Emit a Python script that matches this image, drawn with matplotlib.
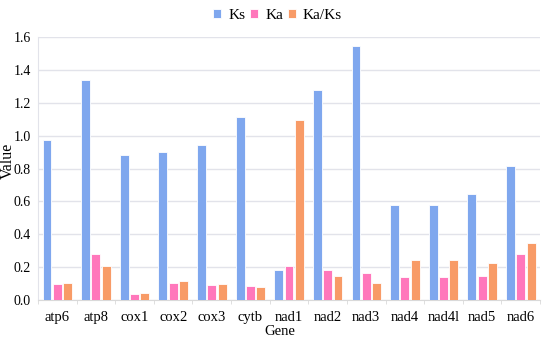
import numpy as np
import matplotlib.pyplot as plt

genes = ['atp6', 'atp8', 'cox1', 'cox2', 'cox3', 'cytb', 'nad1',
         'nad2', 'nad3', 'nad4', 'nad4l', 'nad5', 'nad6']
ks = [0.975, 1.336, 0.882, 0.902, 0.945, 1.115, 0.184,
      1.276, 1.547, 0.58, 0.578, 0.643, 0.813]
ka = [0.101, 0.28, 0.04, 0.107, 0.091, 0.085, 0.205,
      0.184, 0.168, 0.138, 0.14, 0.144, 0.28]
ka_ks = [0.102, 0.207, 0.045, 0.117, 0.097, 0.077, 1.095,
         0.146, 0.107, 0.243, 0.247, 0.223, 0.345]

plt.rcParams['font.family'] = ['Liberation Serif', 'DejaVu Serif']

fig = plt.figure(figsize=(5.5, 3.43), dpi=100)
ax = fig.add_axes([0.069, 0.125, 0.913, 0.767])

x = np.arange(len(genes))
w = 0.23
colors = ['#7fa7ee', '#ff77bb', '#f89b67']
for i, (vals, name) in enumerate([(ks, 'Ks'), (ka, 'Ka'), (ka_ks, 'Ka/Ks')]):
    ax.bar(x + (i - 1) * 0.267, vals, w, color=colors[i], label=name,
           edgecolor='white', linewidth=0.6, zorder=3)

ax.set_xlim(-0.5, len(genes) - 0.5)
ax.set_ylim(0, 1.6)
ax.set_yticks(np.arange(0, 1.61, 0.2))
ax.set_yticklabels([f'{v:.1f}' for v in np.arange(0, 1.61, 0.2)])
ax.set_xticks(x)
ax.set_xticklabels(genes)
ax.set_xticks(np.arange(-0.5, len(genes), 1), minor=True)
ax.tick_params(axis='x', which='major', length=0, pad=8, labelsize=10.5)
ax.tick_params(axis='x', which='minor', length=3, color='#d9d9d9')
ax.tick_params(axis='y', length=0, labelsize=10, pad=5)
ax.grid(axis='y', color='#e2e3ea', linewidth=1, zorder=0)

for s in ['top', 'right']:
    ax.spines[s].set_visible(False)
ax.spines['left'].set_color('#e2e3ea')
ax.spines['bottom'].set_color('#d9d9d9')

ax.set_xlabel('Gene', fontsize=10.5)
ax.xaxis.set_label_coords(0.482, -0.095)
ax.set_ylabel('Value', fontsize=11.5)
ax.yaxis.set_label_coords(-0.044, 0.528)

ax.legend(loc='upper center', bbox_to_anchor=(0.477, 1.16), ncol=3,
          frameon=False, fontsize=11, handlelength=0.55, handleheight=0.55,
          handletextpad=0.45, columnspacing=0.3)

fig.savefig('out.png', dpi=100)
